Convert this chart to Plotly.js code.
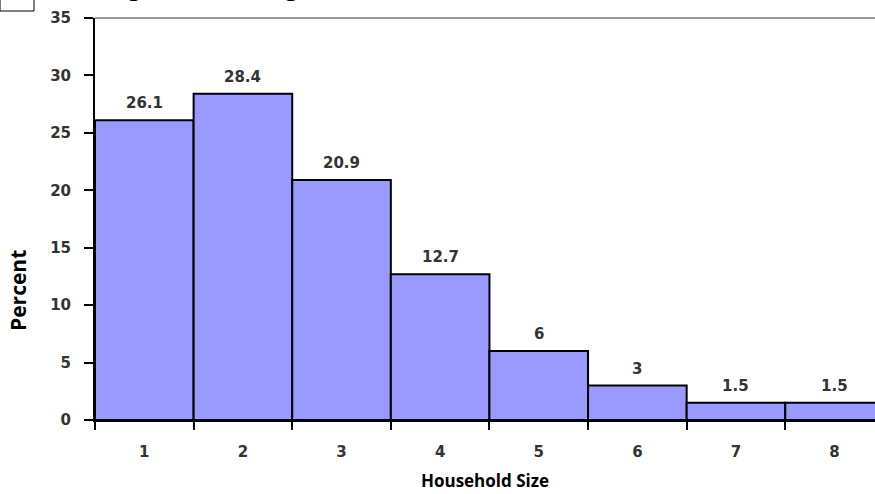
<!DOCTYPE html>
<html>
<head>
<meta charset="utf-8">
<script src="https://cdn.plot.ly/plotly-3.0.1.min.js"></script>
<style>html,body{margin:0;padding:0;background:#fff;}#chart{width:875px;height:494px;}</style>
</head>
<body>
<div id="chart"></div>
<script>
const householdSize = [1, 2, 3, 4, 5, 6, 7, 8];
const tickLabels = ["1", "2", "3", "4", "5", "6", "7", "8"];
const percent = [26.1, 28.4, 20.9, 12.7, 6, 3, 1.5, 1.5];
const barLabels = ["26.1", "28.4", "20.9", "12.7", "6", "3", "1.5", "1.5"];
const yTicks = [0, 5, 10, 15, 20, 25, 30, 35];
const chartTitle = "Figure 1: Average Household Size";
const xTitle = "Household Size";
const yTitle = "Percent";

const tickFont = {family: "DejaVu Sans, sans-serif", size: 15, color: "#333", weight: "bold"};

const trace = {
  type: "bar",
  x: householdSize,
  y: percent,
  width: 1,
  marker: {color: "#9999FF", line: {color: "#000", width: 2}},
  hoverinfo: "x+y"
};

const labelAnnotations = householdSize.map((x, i) => ({
  x: x, y: percent[i], xref: "x", yref: "y",
  text: barLabels[i], showarrow: false,
  xanchor: "center", yanchor: "bottom", yshift: 6,
  font: tickFont
}));

const layout = {
  width: 875, height: 494,
  margin: {l: 95, r: 0, t: 18, b: 74},
  paper_bgcolor: "#fff", plot_bgcolor: "#fff",
  showlegend: false,
  bargap: 0,
  xaxis: {
    range: [0.5, 8.41],
    tickvals: householdSize,
    ticktext: tickLabels,
    ticks: "",
    ticklabelstandoff: 17,
    tickfont: tickFont,
    showgrid: false, zeroline: false,
    showline: true, linecolor: "#000", linewidth: 2,
    minor: {tick0: 0.5, dtick: 1, ticks: "outside", ticklen: 8, tickwidth: 2, tickcolor: "#000", showgrid: false},
    title: {text: xTitle, font: {family: "Open Sans, sans-serif", size: 17, color: "#000", weight: "bold"}, standoff: 15}
  },
  yaxis: {
    range: [0, 35],
    tickvals: yTicks,
    ticks: "outside", ticklen: 9, tickwidth: 2, tickcolor: "#000",
    ticklabelstandoff: 10,
    tickfont: tickFont,
    showgrid: false, zeroline: false,
    showline: true, linecolor: "#000", linewidth: 2
  },
  shapes: [
    {type: "line", xref: "paper", yref: "paper", x0: 0, x1: 1, y0: 1, y1: 1, line: {color: "#999", width: 2}},
    {type: "rect", xref: "paper", yref: "paper", x0: -95/780, x1: -61/780, y0: 1 + 7/402, y1: 1 + 30/402, line: {color: "#000", width: 1}, fillcolor: "rgba(0,0,0,0)"}
  ],
  annotations: labelAnnotations.concat([
    {text: chartTitle, xref: "paper", yref: "paper", x: 10/780, y: 1, xanchor: "left", yanchor: "bottom", yshift: 14, showarrow: false,
     font: {family: "Open Sans, sans-serif", size: 24, color: "#000", weight: "bold"}},
    {text: yTitle, xref: "paper", yref: "paper", x: -77/780, y: 129/402, xanchor: "center", yanchor: "middle", textangle: -90, showarrow: false,
     font: {family: "Open Sans, sans-serif", size: 21, color: "#000", weight: "bold"}}
  ])
};

Plotly.newPlot("chart", [trace], layout, {displayModeBar: false, staticPlot: true});
</script>
</body>
</html>
